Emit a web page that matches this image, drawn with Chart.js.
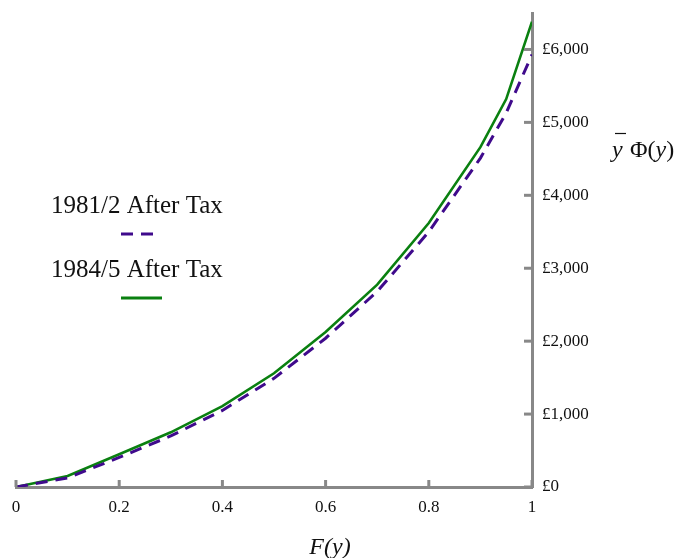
<!DOCTYPE html>
<html>
<head>
<meta charset="utf-8">
<script src="https://cdn.jsdelivr.net/npm/chart.js@4"></script>
<style>
  html, body { margin: 0; padding: 0; background: #fff; }
  #wrap { width: 679px; height: 558px; }
</style>
</head>
<body>
<div id="wrap"><canvas id="lorenzChart" width="679" height="558"></canvas></div>
<script>
// population share F(y)
const shares = [0, 0.1, 0.2, 0.3, 0.4, 0.5, 0.6, 0.7, 0.8, 0.9, 0.95, 1];
// generalised Lorenz ordinates, £
const tax1981 = [0, 125, 405, 700, 1050, 1490, 2040, 2680, 3500, 4510, 5130, 5930];
const tax1984 = [0, 150, 450, 750, 1110, 1560, 2125, 2775, 3620, 4660, 5320, 6380];
const seriesNames = ['1981/2 After Tax', '1984/5 After Tax'];
const yTicks = [0, 1000, 2000, 3000, 4000, 5000, 6000];
const xTicks = [0, 0.2, 0.4, 0.6, 0.8, 1];

const serif = '"Liberation Serif", "DejaVu Serif", serif';
const axisGrey = '#888888';

function pairs(xs, ys) {
    return xs.map((x, i) => ({ x: x, y: ys[i] }));
}

// inward tick marks, legend and free-standing titles
const decorations = {
    id: 'decorations',
    afterDraw(chart) {
        const c = chart.ctx;
        const xs = chart.scales.x, ys = chart.scales.y;
        const area = chart.chartArea;
        c.save();
        c.strokeStyle = axisGrey;
        c.lineWidth = 3;
        xs.ticks.forEach(t => {
            const px = xs.getPixelForValue(t.value);
            c.beginPath();
            c.moveTo(px, area.bottom);
            c.lineTo(px, area.bottom - 7);
            c.stroke();
        });
        ys.ticks.forEach(t => {
            const py = ys.getPixelForValue(t.value);
            c.beginPath();
            c.moveTo(area.right, py);
            c.lineTo(area.right - 8, py);
            c.stroke();
        });

        // legend
        c.fillStyle = '#111';
        c.textAlign = 'left';
        c.textBaseline = 'alphabetic';
        c.font = '25px ' + serif;
        chart.data.datasets.forEach((ds, i) => {
            const top = 213 + i * 64;
            c.fillText(ds.label, 51, top);
            c.beginPath();
            c.strokeStyle = ds.borderColor;
            c.lineWidth = 3;
            c.setLineDash(ds.borderDash || []);
            c.moveTo(121, top + 21);
            c.lineTo(i === 0 ? 157 : 162, top + 21);
            c.stroke();
            c.setLineDash([]);
        });

        // x title
        c.font = 'italic 24px ' + serif;
        c.textAlign = 'center';
        c.fillText('F(y)', 330, 554);

        // y title: y-bar Phi(y)
        c.textAlign = 'left';
        c.font = 'italic 24px ' + serif;
        c.fillText('y', 612, 157);
        c.strokeStyle = '#111';
        c.lineWidth = 1.2;
        c.beginPath();
        c.moveTo(615, 133.5);
        c.lineTo(626, 133.5);
        c.stroke();
        c.font = '24px ' + serif;
        c.fillText('\u03A6(', 630, 157);
        let w = c.measureText('\u03A6(').width;
        c.font = 'italic 24px ' + serif;
        c.fillText('y', 630 + w, 157);
        let w2 = c.measureText('y').width;
        c.font = '24px ' + serif;
        c.fillText(')', 630 + w + w2, 157);
        c.restore();
    }
};

new Chart(document.getElementById('lorenzChart').getContext('2d'), {
    type: 'line',
    data: {
        datasets: [
            {
                label: seriesNames[0],
                data: pairs(shares, tax1981),
                borderColor: '#3f0a8c',
                borderWidth: 3,
                borderDash: [12, 8],
                pointRadius: 0,
                tension: 0,
                fill: false
            },
            {
                label: seriesNames[1],
                data: pairs(shares, tax1984),
                borderColor: '#0a8010',
                borderWidth: 2.6,
                pointRadius: 0,
                tension: 0,
                fill: false
            }
        ]
    },
    options: {
        responsive: false,
        animation: false,
        events: [],
        layout: { padding: { left: 16, top: 13, right: 0, bottom: 0 } },
        plugins: {
            legend: { display: false },
            tooltip: { enabled: false }
        },
        scales: {
            x: {
                type: 'linear',
                position: 'bottom',
                min: 0,
                max: 1,
                afterBuildTicks: s => { s.ticks = xTicks.map(v => ({ value: v })); },
                afterFit: s => { s.height = 71; s.paddingLeft = 0; s.paddingRight = 0; },
                grid: { display: false, drawTicks: false },
                border: { display: true, color: axisGrey, width: 3 },
                ticks: {
                    padding: 10,
                    color: '#111',
                    font: { family: serif, size: 17 },
                    callback: v => String(v)
                }
            },
            y: {
                type: 'linear',
                position: 'right',
                min: 0,
                max: 6500,
                afterBuildTicks: s => { s.ticks = yTicks.map(v => ({ value: v })); },
                afterFit: s => { s.width = 147; s.paddingTop = 0; s.paddingBottom = 0; },
                grid: { display: false, drawTicks: false },
                border: { display: true, color: axisGrey, width: 3 },
                ticks: {
                    padding: 10,
                    color: '#111',
                    font: { family: serif, size: 17 },
                    callback: v => '£' + v.toLocaleString('en-GB')
                }
            }
        }
    },
    plugins: [decorations]
});
</script>
</body>
</html>
